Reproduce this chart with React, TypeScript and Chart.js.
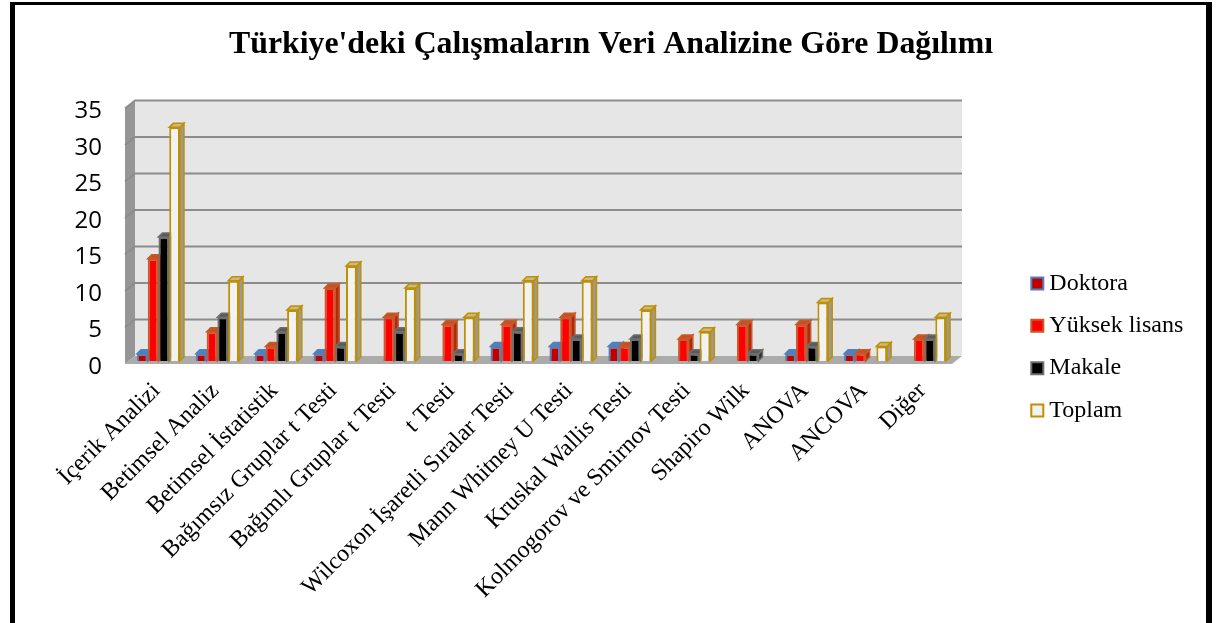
import React, { useEffect, useRef } from "react";
import { Chart, registerables } from "chart.js";

Chart.register(...registerables);

const titleText = "Türkiye'deki Çalışmaların Veri Analizine Göre Dağılımı";
const categories = [
  "İçerik Analizi", "Betimsel Analiz", "Betimsel İstatistik", "Bağımsız Gruplar t Testi",
  "Bağımlı Gruplar t Testi", "t Testi", "Wilcoxon İşaretli Sıralar Testi", "Mann Whitney U Testi",
  "Kruskal Wallis Testi", "Kolmogorov ve Smirnov Testi", "Shapiro Wilk", "ANOVA", "ANCOVA", "Diğer",
];
const doktora = [1, 1, 1, 1, 0, 0, 2, 2, 2, 0, 0, 1, 1, 0];
const yuksekLisans = [14, 4, 2, 10, 6, 5, 5, 6, 2, 3, 5, 5, 1, 3];
const makale = [17, 6, 4, 2, 4, 1, 4, 3, 3, 1, 1, 2, 0, 3];
const toplam = [32, 11, 7, 13, 10, 6, 11, 11, 7, 4, 0, 8, 2, 6];

const SERIF = "'Liberation Serif', 'Times New Roman', serif";

const faces: Record<string, { side: string; top: string }> = {
  Doktora: { side: "#4F81BD", top: "#4F81BD" },
  "Yüksek lisans": { side: "#B02A10", top: "#C8501E" },
  Makale: { side: "#333333", top: "#5A5A5A" },
  Toplam: { side: "#9A9A9A", top: "#C9B98A" },
};

const depth3d = {
  id: "depth3d",
  beforeLayout(chart: any) {
    const l = chart.legend;
    if (l && !l.__wrapped) {
      const fit = l.fit;
      l.fit = function () {
        fit.call(this);
        this.width = 264;
      };
      l.__wrapped = true;
    }
  },
  afterLayout(chart: any) {
    const l = chart.legend;
    if (!l) return;
    const h = 210;
    l.left = 1019;
    l.right = 1218;
    l.top = 347 - h / 2;
    l.bottom = 347 + h / 2;
  },
  beforeDatasetsDraw(chart: any) {
    const { ctx, chartArea, scales } = chart;
    const { left, right } = chartArea;
    const y = scales.y;
    const y0 = y.getPixelForValue(0);
    const yMax = y.getPixelForValue(35);
    const fx = -4, fy = 3, bx = 6, by = -5;
    const poly = (pts: number[][], fill: string) => {
      ctx.beginPath();
      pts.forEach((p, i) => (i ? ctx.lineTo(p[0], p[1]) : ctx.moveTo(p[0], p[1])));
      ctx.closePath();
      ctx.fillStyle = fill;
      ctx.fill();
    };
    ctx.save();
    poly([[left + bx, yMax + by], [right + bx + 2, yMax + by], [right + bx + 2, y0 + by], [left + bx, y0 + by]], "#E6E6E6");
    poly([[left + fx, yMax + fy], [left + bx, yMax + by], [left + bx, y0 + by], [left + fx, y0 + fy]], "#969696");
    poly([[left + fx, y0 + fy], [left + bx, y0 + by], [right + bx + 2, y0 + by], [right + fx + 2, y0 + fy]], "#ABABAB");
    ctx.strokeStyle = "#8C8C8C";
    ctx.lineWidth = 2;
    for (const t of y.ticks) {
      if (t.value === 0) continue;
      const py = y.getPixelForValue(t.value);
      ctx.beginPath();
      ctx.moveTo(left + fx, py + fy);
      ctx.lineTo(left + bx, py + by);
      ctx.lineTo(right + bx + 2, py + by);
      ctx.stroke();
    }
    const dx = 4, dy = 4;
    chart.data.datasets.forEach((ds: any, i: number) => {
      const meta = chart.getDatasetMeta(i);
      const f = faces[ds.label];
      meta.data.forEach((bar: any, k: number) => {
        if (!ds.data[k]) return;
        const { x, y: top, base, width } = bar.getProps(["x", "y", "base", "width"], true);
        const l = x - width / 2, r = x + width / 2;
        ctx.lineWidth = 1.5;
        ctx.strokeStyle = ds.borderColor;
        const pts1 = [[r, top], [r + dx, top - dy], [r + dx, base - dy], [r, base]];
        poly(pts1, f.side);
        ctx.stroke();
        const pts2 = [[l, top], [l + dx, top - dy], [r + dx, top - dy], [r, top]];
        poly(pts2, f.top);
        ctx.stroke();
      });
    });
    ctx.restore();
  },
};

export default function App() {
  const ref = useRef<HTMLCanvasElement>(null);
  useEffect(() => {
    const bw = (c: any) => (c.raw === 0 ? 0 : 2);
    const chart = new Chart(ref.current!, {
      type: "bar",
      data: {
        labels: categories,
        datasets: [
          { label: "Doktora", data: doktora, backgroundColor: "#C00000", borderColor: "#4F81BD", borderWidth: bw },
          { label: "Yüksek lisans", data: yuksekLisans, backgroundColor: "#FF0000", borderColor: "#C55A2A", borderWidth: bw },
          { label: "Makale", data: makale, backgroundColor: "#000000", borderColor: "#6E6E6E", borderWidth: bw },
          { label: "Toplam", data: toplam, backgroundColor: "#F2F2F2", borderColor: "#BF9000", borderWidth: bw },
        ] as any,
      },
      options: {
        responsive: false,
        animation: false,
        layout: { padding: { left: 4, right: 0, top: 0, bottom: 0 } },
        datasets: { bar: { categoryPercentage: 0.73, barPercentage: 1 } },
        plugins: {
          title: {
            display: true,
            text: titleText,
            color: "#000",
            font: { family: SERIF, size: 31.8, weight: "bold", lineHeight: 1.2 },
            padding: { top: 26, bottom: 41.3 },
          },
          legend: {
            display: true,
            position: "right",
            labels: {
              usePointStyle: true,
              pointStyle: "rect",
              boxWidth: 0.01,
              boxHeight: 12,
              padding: 18.3,
              color: "#000",
              font: { family: SERIF, size: 24 },
            },
          },
          tooltip: { enabled: false },
        },
        scales: {
          x: {
            grid: { display: false, drawTicks: false },
            border: { display: false },
            afterFit: (s: any) => { s.height = 262; },
            ticks: {
              autoSkip: false,
              minRotation: 45,
              maxRotation: 45,
              padding: 16,
              labelOffset: -2,
              color: "#000",
              font: { family: SERIF, size: 24 },
            },
          },
          y: {
            min: 0,
            max: 35,
            grid: { display: false, drawTicks: false },
            border: { display: false },
            afterFit: (s: any) => { s.width = 125; },
            ticks: {
              stepSize: 5,
              padding: 27,
              labelOffset: 6,
              color: "#000",
              font: { family: "'Open Sans', sans-serif", size: 24 },
            },
          },
        },
      } as any,
      plugins: [depth3d],
    });
    return () => chart.destroy();
  }, []);
  return (
    <div style={{ position: "absolute", left: 0, top: 0, width: 1218, height: 623, background: "#fff", overflow: "hidden" }}>
      <canvas ref={ref} width={1218} height={623} style={{ display: "block" }} />
      <div style={{ position: "absolute", left: 10, top: 2, width: 1191, height: 630, borderLeft: "5px solid #000", borderTop: "3px solid #000", borderRight: "6px solid #000", pointerEvents: "none" }} />
    </div>
  );
}
